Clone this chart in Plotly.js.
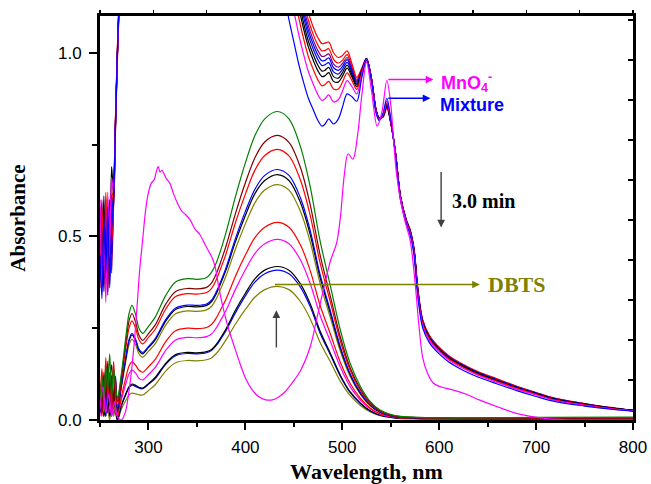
<!DOCTYPE html>
<html>
<head>
<meta charset="utf-8">
<script src="https://cdn.plot.ly/plotly-3.0.1.min.js"></script>
<style>html,body{margin:0;padding:0;background:#fff;}#chart{width:651px;height:484px;}</style>
</head>
<body>
<div id="chart"></div>
<script>
// ---------- DBTS spectra (increase with time) ----------
const wlA = [250,252,254,256,258,260,262,264,266,268,272,277,280,283,287,290,294,300,307,318,328,340,350,360,365,370,375,380,390,400,410,420,433,445,457,467,477,488,498,508,519,529,539,550,560,580,620,700,800];
const dbtsGreen = [0.03,0.12,0.05,0.15,0.08,0.18,0.06,0.14,0.09,0.06, 0.125,0.234,0.29,0.312,0.285,0.251,0.236, 0.255,0.28,0.34,0.376, 0.385,0.383,0.388,0.402,0.428,0.466,0.51, 0.61,0.70,0.775,0.82,0.84, 0.82,0.743,0.634,0.489,0.362,0.245,0.155,0.09,0.05,0.027,0.015,0.01, 0.007,0.006,0.007,0.008];
const dbtsBrown = [0.08,0.02,0.13,0.05,0.16,0.07,0.12,0.04,0.11,0.05, 0.116,0.218,0.27,0.29,0.264,0.232,0.217, 0.235,0.259,0.316,0.35, 0.358,0.357,0.361,0.373,0.398,0.434,0.473, 0.564,0.646,0.715,0.757,0.775, 0.756,0.686,0.585,0.451,0.334,0.226,0.143,0.083,0.047,0.025,0.014,0.009, 0.006,0.005,0.005,0.006];
const dbtsRed = [0.05,0.14,0.03,0.17,0.06,0.13,0.02,0.16,0.07,0.04, 0.108,0.203,0.251,0.27,0.248,0.22,0.207, 0.225,0.247,0.303,0.336, 0.344,0.343,0.347,0.358,0.382,0.416,0.452, 0.539,0.615,0.681,0.72,0.737, 0.719,0.652,0.556,0.429,0.318,0.215,0.136,0.079,0.044,0.024,0.013,0.008, 0.006,0.005,0.005,0.005];
const dbtsBlue = [0.02,0.07,0.11,0.01,0.14,0.04,0.10,0.06,0.12,0.03, 0.094,0.177,0.219,0.236,0.218,0.194,0.184, 0.2,0.222,0.274,0.305, 0.313,0.312,0.316,0.326,0.349,0.38,0.414, 0.496,0.568,0.629,0.666,0.682, 0.666,0.604,0.515,0.397,0.294,0.199,0.126,0.073,0.041,0.022,0.012,0.008, 0.005,0.004,0.004,0.004];
const dbtsBlack = [0.10,0.03,0.08,0.13,0.02,0.11,0.15,0.03,0.08,0.02, 0.093,0.174,0.216,0.232,0.214,0.19,0.18, 0.197,0.218,0.27,0.301, 0.309,0.308,0.312,0.322,0.344,0.375,0.408, 0.487,0.557,0.617,0.652,0.668, 0.652,0.591,0.504,0.389,0.288,0.195,0.124,0.071,0.04,0.021,0.012,0.007, 0.005,0.004,0.004,0.004];
const dbtsOlive = [0.04,0.10,0.02,0.09,0.12,0.03,0.08,0.11,0.02,0.03, 0.088,0.165,0.205,0.22,0.203,0.181,0.171, 0.187,0.208,0.259,0.289, 0.297,0.296,0.3,0.309,0.33,0.36,0.392, 0.467,0.534,0.592,0.626,0.641, 0.626,0.567,0.484,0.373,0.276,0.187,0.119,0.069,0.038,0.021,0.012,0.007, 0.005,0.004,0.004,0.004];
const dbtsRed2 = [0.06,0.01,0.09,0.04,0.15,0.02,0.07,0.13,0.03,0.01, 0.063,0.119,0.147,0.158,0.148,0.136,0.13, 0.145,0.165,0.214,0.243, 0.25,0.249,0.252,0.26,0.278,0.303,0.329, 0.393,0.449,0.497,0.525,0.538, 0.525,0.476,0.406,0.313,0.232,0.157,0.1,0.058,0.032,0.017,0.01,0.006, 0.004,0.003,0.003,0.003];
const dbtsMagenta = [0.01,0.08,0.03,0.11,0.02,0.06,0.12,0.02,0.05,0.01, 0.054,0.102,0.126,0.136,0.127,0.114,0.109, 0.124,0.143,0.19,0.218, 0.225,0.224,0.227,0.234,0.251,0.274,0.298, 0.357,0.409,0.454,0.48,0.492, 0.48,0.435,0.371,0.286,0.212,0.144,0.091,0.053,0.03,0.016,0.009,0.006, 0.004,0.003,0.003,0.003];
const dbtsBlack2 = [0.03,0.09,0.01,0.05,0.10,0.01,0.06,0.02,0.04,0.0, 0.039,0.074,0.091,0.098,0.094,0.089,0.087, 0.099,0.116,0.155,0.178, 0.184,0.183,0.186,0.192,0.206,0.226,0.248, 0.30,0.345,0.385,0.408,0.418, 0.408,0.37,0.316,0.243,0.18,0.122,0.077,0.045,0.025,0.013,0.008,0.005, 0.004,0.003,0.003,0.003];
const dbtsBlue2 = [0.07,0.02,0.06,0.01,0.08,0.03,0.01,0.07,0.02,0.0, 0.038,0.071,0.088,0.095,0.091,0.087,0.085, 0.097,0.113,0.152,0.175, 0.181,0.18,0.183,0.189,0.203,0.222,0.243, 0.293,0.338,0.376,0.398,0.408, 0.398,0.361,0.308,0.237,0.176,0.119,0.075,0.044,0.024,0.013,0.007,0.005, 0.004,0.003,0.003,0.003];
const dbtsOlive2 = [0.02,0.05,0.01,0.07,0.03,0.0,0.05,0.01,0.03,0.0, 0.029,0.055,0.068,0.073,0.071,0.069,0.068, 0.08,0.096,0.134,0.156, 0.162,0.161,0.164,0.169,0.181,0.198,0.218, 0.262,0.301,0.335,0.355,0.364, 0.355,0.322,0.275,0.212,0.157,0.106,0.067,0.039,0.022,0.012,0.007,0.004, 0.003,0.002,0.002,0.002];

// ---------- pure MnO4- spectrum ----------
const wlP = [250,253,256,259,262,265,268,272,276,281,285,288,291,294,297,300,303,306,308,310,312,314,316,319,322,326,330,334,338,343,348,353,358,362,366,369,373,378,383,388,393,400,407,414,421,428,434,441,448,457,467,474,481,488,494,498,502,506,511,516,520,525,530,536,541,546,550,553,556,560,564,567,570,573,576,579,583,588,594,602,614,628,642,660,683,711,740,800];
const mno4 = [0.03,0.09,0.02,0.07,0.01,0.05,0.01,0.0,0.02,0.1,0.2,0.3,0.41,0.49,0.57,0.62,0.645,0.655,0.675,0.69,0.675,0.68,0.67,0.655,0.645,0.615,0.59,0.57,0.56,0.545,0.52,0.505,0.48,0.46,0.44,0.415,0.355,0.295,0.245,0.205,0.165,0.115,0.082,0.063,0.055,0.055,0.062,0.077,0.1,0.135,0.2,0.28,0.36,0.435,0.48,0.55,0.665,0.725,0.71,0.78,0.88,0.975,0.9,0.80,0.84,0.925,0.86,0.76,0.67,0.6,0.55,0.52,0.49,0.43,0.35,0.26,0.17,0.127,0.1,0.09,0.082,0.07,0.054,0.036,0.016,0.004,0.0,0.0];

// ---------- mixture spectra (decrease with time) ----------
const wlM = [250,252,254,256,258,260,262,264,266,268,270,272,300,400,430,440,445,450,455,460,465,470,475,479,482,486,491,496,500,505,510,515,520,525,530,535,538,542,546,550,555,560,566,570,574,578,583,590,600,610,625,640,660,680,700,720,750,775,800];
const mixBlue1 = [0.45,0.33,0.55,0.40,0.58,0.36,0.52,0.60,0.80,1.0,1.15,1.3,2.0,2.0,1.31,1.16,1.09,1.03,0.97,0.92,0.876,0.845,0.815,0.80,0.805,0.82,0.806,0.82,0.85,0.888,0.88,0.868,0.93,0.98,0.925,0.835,0.815,0.835,0.876,0.82,0.72,0.60,0.535,0.505,0.45,0.335,0.25,0.21,0.18,0.158,0.135,0.117,0.098,0.08,0.064,0.05,0.038,0.03,0.024];
const mixMagenta = [0.60,0.38,0.50,0.32,0.62,0.44,0.66,0.62,0.82,1.0,1.16,1.3,2.0,2.0,1.41,1.251,1.178,1.114,1.051,0.996,0.949,0.915,0.885,0.87,0.874,0.885,0.866,0.872,0.894,0.924,0.908,0.888,0.938,0.981,0.927,0.838,0.818,0.832,0.868,0.817,0.722,0.604,0.539,0.509,0.456,0.342,0.257,0.216,0.186,0.163,0.14,0.122,0.102,0.084,0.068,0.053,0.04,0.031,0.025];
const mixRed1 = [0.36,0.58,0.42,0.60,0.35,0.57,0.48,0.58,0.79,0.98,1.14,1.3,2.0,2.0,1.46,1.303,1.228,1.162,1.097,1.039,0.99,0.955,0.925,0.91,0.913,0.922,0.901,0.901,0.919,0.945,0.924,0.9,0.943,0.982,0.928,0.839,0.819,0.83,0.863,0.815,0.723,0.606,0.541,0.512,0.459,0.346,0.261,0.22,0.189,0.166,0.143,0.124,0.105,0.086,0.07,0.054,0.041,0.032,0.025];
const mixBlack1 = [0.52,0.40,0.61,0.37,0.55,0.45,0.69,0.61,0.81,1.0,1.15,1.31,2.0,2.0,1.5,1.336,1.259,1.192,1.125,1.066,1.016,0.98,0.95,0.935,0.937,0.946,0.922,0.92,0.935,0.958,0.934,0.907,0.946,0.983,0.929,0.84,0.82,0.828,0.86,0.813,0.724,0.607,0.542,0.513,0.461,0.349,0.264,0.222,0.191,0.168,0.145,0.126,0.106,0.087,0.071,0.055,0.042,0.033,0.025];
const mixBlack2 = [0.40,0.55,0.35,0.52,0.44,0.60,0.50,0.59,0.80,0.99,1.15,1.3,2.0,2.0,1.52,1.355,1.278,1.21,1.143,1.082,1.032,0.995,0.965,0.95,0.952,0.96,0.935,0.931,0.945,0.966,0.94,0.912,0.948,0.983,0.93,0.841,0.821,0.828,0.858,0.813,0.725,0.608,0.543,0.514,0.462,0.35,0.265,0.224,0.192,0.169,0.146,0.127,0.107,0.088,0.072,0.056,0.043,0.033,0.026];
const mixBlue2 = [0.56,0.36,0.48,0.58,0.34,0.53,0.45,0.60,0.81,1.0,1.16,1.31,2.0,2.0,1.54,1.375,1.296,1.228,1.16,1.098,1.048,1.01,0.98,0.965,0.967,0.973,0.948,0.942,0.954,0.974,0.946,0.916,0.95,0.983,0.93,0.842,0.822,0.827,0.856,0.812,0.725,0.608,0.543,0.515,0.463,0.352,0.267,0.225,0.193,0.17,0.147,0.128,0.108,0.089,0.072,0.057,0.043,0.033,0.026];
const mixBlue3 = [0.38,0.50,0.57,0.39,0.60,0.41,0.56,0.61,0.82,1.01,1.16,1.31,2.0,2.0,1.56,1.391,1.313,1.244,1.175,1.112,1.061,1.023,0.993,0.978,0.979,0.986,0.959,0.952,0.962,0.981,0.951,0.92,0.951,0.984,0.93,0.842,0.822,0.826,0.855,0.811,0.725,0.609,0.544,0.516,0.464,0.353,0.268,0.226,0.194,0.171,0.148,0.129,0.109,0.09,0.073,0.057,0.043,0.034,0.026];
const mixPurple = [0.48,0.60,0.39,0.54,0.42,0.58,0.40,0.60,0.81,1.0,1.16,1.32,2.0,2.0,1.58,1.407,1.328,1.258,1.189,1.125,1.074,1.035,1.005,0.99,0.991,0.997,0.969,0.961,0.97,0.987,0.956,0.923,0.953,0.984,0.931,0.843,0.823,0.826,0.853,0.811,0.726,0.61,0.545,0.516,0.465,0.354,0.269,0.227,0.195,0.172,0.148,0.129,0.109,0.091,0.074,0.058,0.044,0.034,0.026];
const mixRed2 = [0.58,0.42,0.52,0.36,0.57,0.39,0.61,0.62,0.82,1.01,1.17,1.32,2.0,2.0,1.6,1.427,1.346,1.276,1.206,1.141,1.089,1.05,1.02,1.005,1.006,1.011,0.982,0.972,0.979,0.995,0.962,0.927,0.955,0.984,0.931,0.843,0.823,0.825,0.851,0.81,0.726,0.61,0.545,0.517,0.466,0.356,0.271,0.228,0.196,0.173,0.149,0.13,0.11,0.091,0.074,0.058,0.044,0.034,0.026];
const mixRed3 = [0.42,0.56,0.37,0.62,0.47,0.52,0.58,0.63,0.83,1.02,1.17,1.33,2.0,2.0,1.63,1.453,1.371,1.3,1.229,1.163,1.11,1.07,1.04,1.025,1.026,1.029,1.0,0.987,0.992,1.005,0.97,0.933,0.957,0.985,0.932,0.844,0.824,0.824,0.849,0.809,0.727,0.611,0.546,0.519,0.468,0.358,0.273,0.23,0.198,0.175,0.151,0.132,0.112,0.092,0.075,0.059,0.045,0.035,0.026];

// ---------- labels ----------
const xTitle = 'Wavelength, nm';
const yTitle = 'Absorbance';
const lblMnO4 = 'MnO<sub>4</sub><sup>-</sup>';
const lblMix = 'Mixture';
const lblTime = '3.0 min';
const lblDBTS = 'DBTS';

function line(x, y, color) {
  return {x: x, y: y, type: 'scatter', mode: 'lines', showlegend: false, hoverinfo: 'skip',
    line: {color: color, width: 1.2, shape: 'spline', smoothing: 0.9}};
}

const traces = [
  line(wlA, dbtsOlive2, '#808000'),
  line(wlA, dbtsBlue2, '#0000ff'),
  line(wlA, dbtsBlack2, '#000000'),
  line(wlA, dbtsMagenta, '#ff00ff'),
  line(wlA, dbtsRed2, '#ff0000'),
  line(wlA, dbtsOlive, '#808000'),
  line(wlA, dbtsBlack, '#000000'),
  line(wlA, dbtsBlue, '#0000ff'),
  line(wlA, dbtsRed, '#ff0000'),
  line(wlA, dbtsBrown, '#800000'),
  line(wlA, dbtsGreen, '#008000'),
  line(wlM, mixRed3, '#ff0000'),
  line(wlM, mixRed2, '#ff0000'),
  line(wlM, mixPurple, '#800080'),
  line(wlM, mixBlue3, '#0000ff'),
  line(wlM, mixBlue2, '#0000ff'),
  line(wlM, mixBlack2, '#000000'),
  line(wlM, mixBlack1, '#000000'),
  line(wlM, mixRed1, '#ff0000'),
  line(wlM, mixMagenta, '#ff00ff'),
  line(wlM, mixBlue1, '#0000ff'),
  line(wlP, mno4, '#ff00ff'),
  {x: [null], y: [null], xaxis: 'x2', yaxis: 'y2', type: 'scatter', mode: 'lines', showlegend: false, hoverinfo: 'skip'}
];

const tickFont = {family: 'Liberation Sans, Arial, sans-serif', size: 17, color: '#000'};
const serif = 'Liberation Serif, Times New Roman, serif';

function arrow(x0, y0, x1, y1, color) {
  return {x: x1, y: y1, ax: x0, ay: y0, xref: 'x', yref: 'y', axref: 'x', ayref: 'y',
    text: '', showarrow: true, arrowhead: 2, arrowsize: 1.1, arrowwidth: 1.4, arrowcolor: color, standoff: 0, startstandoff: 0};
}
function label(x, y, text, font) {
  return {x: x, y: y, xref: 'x', yref: 'y', text: text, showarrow: false, xanchor: 'left', yanchor: 'middle', font: font};
}

const layout = {
  width: 651, height: 484,
  margin: {l: 100, r: 18, t: 16, b: 64},
  paper_bgcolor: '#fff', plot_bgcolor: '#fff',
  showlegend: false,
  xaxis: {range: [250, 800], dtick: 100, tick0: 0, ticks: 'outside', ticklen: 7, tickwidth: 2, tickcolor: '#000',
    showline: true, linewidth: 3, linecolor: '#000', showgrid: false, zeroline: false, mirror: false,
    tickfont: tickFont, ticklabelstandoff: 3,
    minor: {dtick: 50, ticks: 'outside', ticklen: 4, tickwidth: 2, tickcolor: '#000', showgrid: false},
    title: {text: '<b>' + xTitle + '</b>', font: {family: serif, size: 22, color: '#000'}, standoff: 14}},
  yaxis: {range: [0, 1.1], dtick: 0.5, tick0: 0, tickformat: '.1f', ticks: 'outside', ticklen: 8, tickwidth: 2, tickcolor: '#000',
    showline: true, linewidth: 3, linecolor: '#000', showgrid: false, zeroline: false, mirror: false,
    tickfont: tickFont, ticklabelstandoff: 4,
    minor: {dtick: 0.25, ticks: 'outside', ticklen: 5, tickwidth: 2, tickcolor: '#000', showgrid: false},
    title: {text: '<b>' + yTitle + '</b>', font: {family: serif, size: 21, color: '#000'}, standoff: 27}},
  xaxis2: {overlaying: 'x', side: 'top', anchor: 'y', range: [0, 10], dtick: 1, ticks: 'outside', ticklen: 3, tickwidth: 1.5,
    tickcolor: '#000', showticklabels: false, showline: true, linewidth: 3, linecolor: '#000', showgrid: false, zeroline: false},
  yaxis2: {overlaying: 'y', side: 'right', anchor: 'x', range: [0, 1.0103], dtick: 0.1, ticks: 'inside', ticklen: 5, tickwidth: 1.5,
    tickcolor: '#000', showticklabels: false, showline: true, linewidth: 3, linecolor: '#000', showgrid: false, zeroline: false},
  annotations: [
    arrow(546, 0.927, 594, 0.927, '#ff00ff'),
    arrow(546, 0.876, 591, 0.876, '#0000ff'),
    label(600, 0.92, '<b>' + lblMnO4 + '</b>', {family: 'Liberation Sans, Arial, sans-serif', size: 18, color: '#ff00ff'}),
    label(599, 0.858, '<b>' + lblMix + '</b>', {family: 'Liberation Sans, Arial, sans-serif', size: 18, color: '#0000ff'}),
    arrow(602, 0.679, 602, 0.524, '#404040'),
    label(611, 0.595, '<b>' + lblTime + '</b>', {family: serif, size: 20, color: '#000'}),
    arrow(429, 0.369, 642, 0.369, '#808000'),
    label(648, 0.37, '<b>' + lblDBTS + '</b>', {family: serif, size: 22, color: '#808000'}),
    arrow(432, 0.193, 432, 0.299, '#404040')
  ]
};

Plotly.newPlot('chart', traces, layout, {displayModeBar: false, staticPlot: true});
</script>
</body>
</html>
